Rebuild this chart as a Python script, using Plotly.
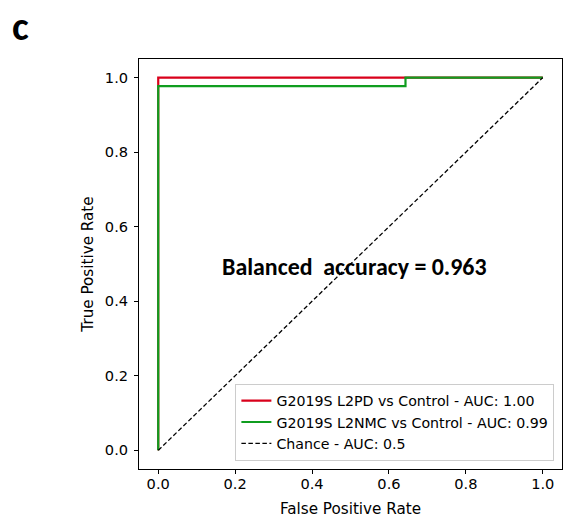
import plotly.graph_objects as go

# ROC data
fpr_pd = [0.0, 0.0, 1.0]
tpr_pd = [0.0, 1.0, 1.0]
fpr_nmc = [0.0, 0.0, 0.643, 0.643, 1.0]
tpr_nmc = [0.0, 0.977, 0.977, 1.0, 1.0]
fpr_chance = [0.0, 1.0]
tpr_chance = [0.0, 1.0]

names = ["G2019S L2PD vs Control - AUC: 1.00",
         "G2019S L2NMC vs Control - AUC: 0.99",
         "Chance - AUC: 0.5"]
tick_vals = [0.0, 0.2, 0.4, 0.6, 0.8, 1.0]
tick_text = ["0.0", "0.2", "0.4", "0.6", "0.8", "1.0"]
balanced_acc = 0.963

NARROW = "Carlito, DejaVu Sans Condensed, Liberation Sans Narrow, Roboto Condensed, Roboto, sans-serif"

fig = go.Figure()
fig.add_trace(go.Scatter(x=fpr_pd, y=tpr_pd, mode="lines", name=names[0],
                         line=dict(color="#d9001b", width=2.2)))
fig.add_trace(go.Scatter(x=fpr_nmc, y=tpr_nmc, mode="lines", name=names[1],
                         line=dict(color="#0f9d1f", width=2.2)))
fig.add_trace(go.Scatter(x=fpr_chance, y=tpr_chance, mode="lines", name=names[2],
                         line=dict(color="black", width=1.3, dash="4.5px,2.5px")))

axis_common = dict(range=[-0.05, 1.05], tickvals=tick_vals, ticktext=tick_text,
                   ticks="outside", ticklen=4, tickwidth=1, tickcolor="black",
                   showline=True, linecolor="black", linewidth=1, mirror=True,
                   showgrid=False, zeroline=False,
                   tickfont=dict(family="DejaVu Sans", size=14.6, color="black"))

fig.update_layout(
    width=563, height=518,
    margin=dict(l=139, r=1, t=59, b=49),
    paper_bgcolor="white", plot_bgcolor="white",
    font=dict(family="DejaVu Sans", size=14.6, color="black"),
    xaxis=dict(axis_common, ticklabelstandoff=-3,
               title=dict(text="False Positive Rate", standoff=12, font=dict(size=15.2))),
    yaxis=dict(axis_common, ticklabelstandoff=3,
               title=dict(text="True Positive Rate", standoff=7, font=dict(size=15.2))),
    legend=dict(x=0.982, y=0.02, xanchor="right", yanchor="bottom",
                bgcolor="rgba(255,255,255,0.8)", bordercolor="#cccccc", borderwidth=1,
                font=dict(family="DejaVu Sans", size=14.2, color="black"),
                tracegroupgap=0, itemwidth=30),
    showlegend=True,
)

fig.add_annotation(x=0.51, y=0.494, xref="x", yref="y",
                   text="<b>Balanced\u00a0 accuracy = %.3f</b>" % balanced_acc,
                   showarrow=False, xanchor="center", yanchor="middle",
                   font=dict(family=NARROW, size=23.9, color="black"))
fig.add_annotation(x=-0.279, y=(469.3 - 26) / 410.3, xref="paper", yref="paper",
                   text="<b>c</b>", showarrow=False, xanchor="center", yanchor="middle",
                   font=dict(family=NARROW, size=40, color="black"))

fig.write_html("out.html", config={"displayModeBar": False},
               post_script="document.body.style.margin='0';document.body.style.overflow='hidden';")
